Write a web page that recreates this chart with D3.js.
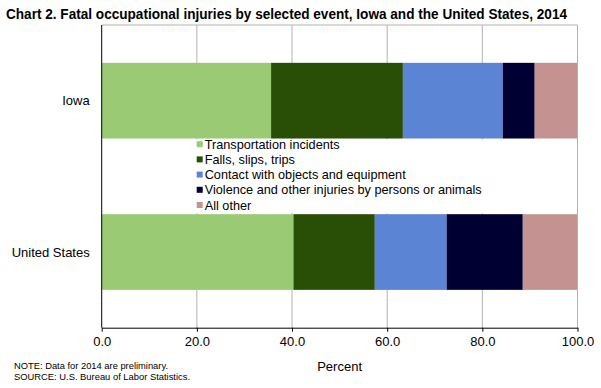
<!DOCTYPE html>
<html>
<head>
<meta charset="utf-8">
<script src="https://cdn.jsdelivr.net/npm/d3@7"></script>
<style>
  body { margin: 0; background: #fff; }
  text { font-family: "Liberation Sans", Arial, sans-serif; fill: #000; }
</style>
</head>
<body>
<div class="plot"></div>
<script>
// data
var regions = ["Iowa", "United States"];
var events = [
    "Transportation incidents",
    "Falls, slips, trips",
    "Contact with objects and equipment",
    "Violence and other injuries by persons or animals",
    "All other"
];
var iowaValues = [35.6, 27.7, 21.0, 6.7, 9.0];
var usValues = [40.3, 17.1, 15.1, 16.0, 11.5];
var xTicks = [0, 20, 40, 60, 80, 100];
var colors = ["#9bca74", "#294e06", "#5b84d4", "#000033", "#c49391"];

var svgWidth = 601;
var svgHeight = 388;

var margin = { top: 25, right: 23.5, bottom: 60.3, left: 101.7 };
var width = svgWidth - margin.left - margin.right;
var height = svgHeight - margin.top - margin.bottom;

var svg = d3.select(".plot")
    .append("svg")
    .attr("width", svgWidth)
    .attr("height", svgHeight);

// title
svg.append("text")
    .attr("x", 6)
    .attr("y", 19)
    .attr("font-family", "'DejaVu Sans Condensed', 'Liberation Sans Narrow', sans-serif")
    .attr("font-weight", "bold")
    .attr("font-size", "14px")
    .attr("textLength", 561)
    .attr("lengthAdjust", "spacingAndGlyphs")
    .text("Chart 2.  Fatal occupational injuries by selected event, Iowa and the United States, 2014");

var chartGroup = svg.append("g")
    .attr("transform", `translate(${margin.left}, ${margin.top})`);

// stack the rows
var table = regions.map(function (r, i) {
    var vals = i === 0 ? iowaValues : usValues;
    var row = { region: r };
    events.forEach(function (e, j) { row[e] = vals[j]; });
    return row;
});
var series = d3.stack().keys(events)(table);

var xScale = d3.scaleLinear()
    .domain([0, 100])
    .range([0, width]);

var yScale = d3.scaleBand()
    .domain(regions)
    .range([0, height])
    .paddingInner(0.5)
    .paddingOuter(0.25);

// gridlines
chartGroup.selectAll(".grid")
    .data(xTicks.slice(1))
    .enter()
    .append("line")
    .attr("x1", d => xScale(d))
    .attr("x2", d => xScale(d))
    .attr("y1", 0)
    .attr("y2", height)
    .attr("stroke", "#b3b3b3")
    .attr("stroke-width", 1);

// top border
chartGroup.append("line")
    .attr("x1", 0).attr("x2", width)
    .attr("y1", 0).attr("y2", 0)
    .attr("stroke", "#b3b3b3");

// bars
chartGroup.selectAll(".layer")
    .data(series)
    .enter()
    .append("g")
    .attr("fill", (d, i) => colors[i])
    .selectAll("rect")
    .data(d => d)
    .enter()
    .append("rect")
    .attr("x", d => xScale(d[0]))
    .attr("width", d => xScale(d[1]) - xScale(d[0]))
    .attr("y", d => yScale(d.data.region))
    .attr("height", yScale.bandwidth());

// legend box, sits between the bars and hides gridlines
var legendTop = yScale("Iowa") + yScale.bandwidth() + 1;
chartGroup.append("rect")
    .attr("x", 88)
    .attr("y", legendTop)
    .attr("width", 300)
    .attr("height", yScale("United States") - legendTop - 1)
    .attr("fill", "#fff");

var legend = chartGroup.selectAll(".legend")
    .data(events)
    .enter()
    .append("g")
    .attr("transform", (d, i) => `translate(95, ${119.2 + i * 15.2})`);

legend.append("rect")
    .attr("x", 0)
    .attr("y", -3)
    .attr("width", 6)
    .attr("height", 6)
    .attr("fill", (d, i) => colors[i]);

legend.append("text")
    .attr("x", 8)
    .attr("y", 4.5)
    .attr("font-size", "12.7px")
    .text(d => d);

// right border
chartGroup.append("line")
    .attr("x1", width).attr("x2", width)
    .attr("y1", 0).attr("y2", height)
    .attr("stroke", "#b3b3b3");

// x axis
var xAxis = d3.axisBottom(xScale)
    .tickValues(xTicks)
    .tickFormat(d3.format(".1f"))
    .tickSize(4)
    .tickSizeOuter(0);

var xg = chartGroup.append("g")
    .attr("transform", `translate(0, ${height})`)
    .call(xAxis);
xg.select(".domain").attr("stroke", "#000");
xg.selectAll(".tick line").attr("stroke", "#000");
xg.selectAll(".tick text")
    .attr("font-family", "'Liberation Sans', Arial, sans-serif")
    .attr("font-size", "13px")
    .attr("fill", "#000")
    .attr("dy", "0.71em")
    .attr("y", 9);

// y axis line and labels
chartGroup.append("line")
    .attr("x1", 0).attr("x2", 0)
    .attr("y1", 0).attr("y2", height)
    .attr("stroke", "#000");

chartGroup.selectAll(".cat")
    .data(regions)
    .enter()
    .append("text")
    .attr("x", -12)
    .attr("y", d => yScale(d) + yScale.bandwidth() / 2 + 4.5)
    .attr("text-anchor", "end")
    .attr("font-size", "13px")
    .text(d => d);

// axis title
svg.append("text")
    .attr("x", margin.left + width / 2)
    .attr("y", 371)
    .attr("text-anchor", "middle")
    .attr("font-size", "13px")
    .text("Percent");

// notes
svg.append("text")
    .attr("x", 14)
    .attr("y", 369)
    .attr("font-size", "9.5px")
    .attr("textLength", 154)
    .attr("lengthAdjust", "spacingAndGlyphs")
    .text("NOTE: Data for 2014 are preliminary.");

svg.append("text")
    .attr("x", 14)
    .attr("y", 380)
    .attr("font-size", "9.5px")
    .attr("textLength", 176)
    .attr("lengthAdjust", "spacingAndGlyphs")
    .text("SOURCE: U.S. Bureau  of Labor Statistics.");
</script>
</body>
</html>
